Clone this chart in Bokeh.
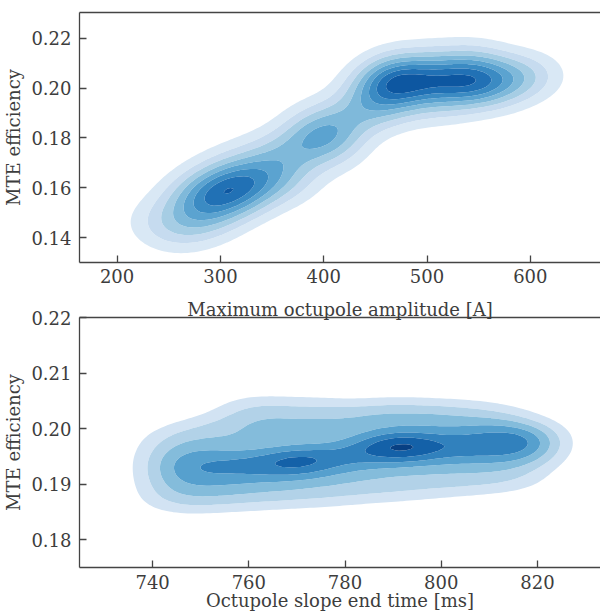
import numpy as np
from bokeh.plotting import figure
from bokeh.layouts import column
from bokeh.models import FixedTicker, PrintfTickFormatter, LinearAxis, Range1d
from bokeh.embed import file_html
from bokeh.resources import INLINE

# ---------------- data (samples) ----------------
# Panel 1: maximum octupole amplitude [A] vs MTE efficiency
amp_a = [270, 274, 278, 282, 286, 290, 294, 298, 302, 306, 310, 314, 318, 322, 326, 330, 334, 338, 343, 348, 353, 358,
         308, 324, 316, 300,
         228, 238, 246, 254, 260, 266, 272, 280, 286, 294, 302, 312, 320, 332, 344, 356, 364, 370, 262, 290,
         362, 370, 378, 386, 390, 394, 398, 402, 406, 410, 414, 422, 426, 434, 438,
         446, 450, 454, 397,
         375, 392, 420, 435, 385, 410,
         456, 460, 464, 468, 472, 476, 480, 484, 488, 492, 496, 500, 504, 508, 512, 516, 520, 524, 528, 532,
         536, 540, 544, 548, 552, 556, 462, 470, 548, 458, 465, 460, 545,
         562, 568, 574, 580, 586, 592, 598, 606, 612,
         455, 466, 478, 490, 502, 514, 526, 538, 550, 560, 470, 515, 545, 575]
eff_a = [0.150, 0.155, 0.151, 0.157, 0.153, 0.158, 0.154, 0.160, 0.155, 0.161, 0.157, 0.163, 0.158, 0.164, 0.160,
         0.166, 0.161, 0.167, 0.163, 0.169, 0.165, 0.170,
         0.159, 0.162, 0.160, 0.157,
         0.147, 0.143, 0.150, 0.142, 0.155, 0.145, 0.160, 0.146, 0.164, 0.149, 0.169, 0.151, 0.173, 0.155, 0.176,
         0.160, 0.177, 0.163, 0.141, 0.144,
         0.172, 0.174, 0.177, 0.179, 0.176, 0.182, 0.178, 0.184, 0.180, 0.186, 0.182,
         0.184, 0.190, 0.192, 0.189,
         0.191, 0.197, 0.194, 0.181,
         0.162, 0.190, 0.176, 0.199, 0.185, 0.171,
         0.200, 0.204, 0.201, 0.205, 0.201, 0.204, 0.202, 0.205, 0.201, 0.204, 0.202, 0.205, 0.201, 0.204, 0.202,
         0.205, 0.202, 0.204, 0.201, 0.204, 0.202, 0.204, 0.202, 0.204, 0.202, 0.203, 0.202, 0.203, 0.203,
         0.201, 0.203, 0.202, 0.203,
         0.201, 0.205, 0.202, 0.205, 0.203, 0.206, 0.204, 0.205, 0.206,
         0.193, 0.210, 0.195, 0.212, 0.195, 0.212, 0.196, 0.211, 0.197, 0.210, 0.190, 0.191, 0.213, 0.198]

# Panel 2: octupole slope end time [ms] vs MTE efficiency (grouped by setting)
time_settings = [742, 746, 750, 754, 758, 762, 766, 770, 774, 778, 782, 786, 790, 794, 798, 802, 806, 810, 814,
                 818, 820]
eff_by_setting = [
    [0.1870, 0.1895, 0.1915, 0.1935, 0.1952, 0.1978],
    [0.1868, 0.1895, 0.1913, 0.1930, 0.1945, 0.1965, 0.1992],
    [0.1870, 0.1897, 0.1916, 0.1932, 0.1945, 0.1968, 0.1998],
    [0.1872, 0.1900, 0.1918, 0.1935, 0.1948, 0.1972, 0.2005],
    [0.1875, 0.1902, 0.1923, 0.1937, 0.1948, 0.1985, 0.2010, 0.2038],
    [0.1875, 0.1905, 0.1925, 0.1938, 0.1948, 0.1982, 0.2008, 0.2035],
    [0.1878, 0.1907, 0.1928, 0.1940, 0.1950, 0.1988, 0.2012, 0.2040],
    [0.1880, 0.1910, 0.1932, 0.1940, 0.1943, 0.1946, 0.1955, 0.1992, 0.2020],
    [0.1880, 0.1912, 0.1935, 0.1945, 0.1957, 0.1992, 0.2015, 0.2042],
    [0.1883, 0.1915, 0.1938, 0.1950, 0.1962, 0.1998, 0.2025],
    [0.1886, 0.1918, 0.1942, 0.1955, 0.1966, 0.2000, 0.2028],
    [0.1890, 0.1922, 0.1948, 0.1962, 0.1970, 0.1976, 0.2012, 0.2030],
    [0.1890, 0.1925, 0.1950, 0.1965, 0.1968, 0.1972, 0.1977, 0.2012, 0.2035],
    [0.1893, 0.1928, 0.1952, 0.1966, 0.1968, 0.1972, 0.1978, 0.2008, 0.2032],
    [0.1897, 0.1930, 0.1955, 0.1968, 0.1977, 0.2008, 0.2030],
    [0.1900, 0.1933, 0.1957, 0.1970, 0.1980, 0.2008, 0.2030],
    [0.1902, 0.1935, 0.1955, 0.1968, 0.1980, 0.1998, 0.2028],
    [0.1905, 0.1938, 0.1957, 0.1970, 0.1982, 0.1998, 0.2025],
    [0.1908, 0.1940, 0.1960, 0.1972, 0.1984, 0.1998, 0.2020],
    [0.1912, 0.1945, 0.1965, 0.1980, 0.2000],
    [0.1950, 0.1968, 0.1980, 0.1992],
]

amp_ticks = [200, 300, 400, 500, 600]
amp_eff_ticks = [0.14, 0.16, 0.18, 0.20, 0.22]
time_ticks = [740, 760, 780, 800, 820]
time_eff_ticks = [0.18, 0.19, 0.20, 0.21, 0.22]
amp_label = "Maximum octupole amplitude [A]"
time_label = "Octupole slope end time [ms]"
eff_label = "MTE efficiency"

# ---------------- styles ----------------
TOP_COLORS = ["#d9e8f5", "#c6dbef", "#a6cde4", "#7fb9da", "#5ba3d0", "#3b8bc3", "#2171b5", "#0d57a1"]
BOT_COLORS = ["#d2e3f3", "#b2d2e8", "#84bcdb", "#56a0ce", "#3181bd", "#1461a8", "#084083"]
FONT = "DejaVu Serif"
FS = "18px"
TEXT = "#3d3d3d"
LINE = "#444444"


def kde(xs, ys, gx, gy, bx, by):
    xs = np.asarray(xs, float)
    ys = np.asarray(ys, float)
    kx = np.exp(-0.5 * ((gx[None, :] - xs[:, None]) / bx) ** 2)
    ky = np.exp(-0.5 * ((gy[None, :] - ys[:, None]) / by) ** 2)
    return ky.T @ kx


def levels_for(z, nbands, top_frac):
    m = z.max()
    step = m / top_frac
    lv = [step * k for k in range(1, nbands + 1)]
    lv.append(max(m, lv[-1]) * 1.02)
    return lv


def text_style(ax):
    ax.major_label_text_font = FONT
    ax.major_label_text_font_size = FS
    ax.major_label_text_color = TEXT
    ax.axis_label_text_font = FONT
    ax.axis_label_text_font_size = FS
    ax.axis_label_text_font_style = "normal"
    ax.axis_label_text_color = TEXT


def style(p, xticks, yticks, ylabel, xlabel=None, top_label=None):
    p.outline_line_color = None
    p.grid.visible = False
    p.xaxis.ticker = FixedTicker(ticks=xticks)
    p.yaxis.ticker = FixedTicker(ticks=yticks)
    p.yaxis.formatter = PrintfTickFormatter(format="%.2f")
    p.yaxis.axis_label = ylabel
    if xlabel:
        p.xaxis.axis_label = xlabel
    for ax in (p.xaxis[0], p.yaxis[0]):
        ax.axis_line_color = LINE
        ax.axis_line_width = 1.3
        ax.major_tick_line_color = LINE
        ax.major_tick_line_width = 1.3
        ax.major_tick_in = 7
        ax.major_tick_out = 0
        ax.minor_tick_line_color = None
        text_style(ax)
    p.yaxis.major_label_standoff = 8
    p.yaxis.axis_label_standoff = 4
    top = LinearAxis(ticker=FixedTicker(ticks=[]), axis_line_color=LINE, axis_line_width=1.3,
                     major_tick_line_color=None, minor_tick_line_color=None,
                     major_tick_in=0, major_tick_out=0, minor_tick_in=0, minor_tick_out=0,
                     major_label_standoff=0)
    text_style(top)
    top.major_label_text_font_size = "0px"
    if top_label:
        top.axis_label = top_label
        top.axis_label_standoff = 7
    p.add_layout(top, "above")


# ---------------- panel 1 ----------------
gx1 = np.linspace(150, 690, 170)
gy1 = np.linspace(0.115, 0.245, 170)
z1 = kde(amp_a, eff_a, gx1, gy1, 24.0, 0.0070)
p1 = figure(width=600, height=289, x_range=Range1d(163.6, 667.9), y_range=Range1d(0.1301, 0.2303),
            output_backend="svg", toolbar_location=None,
            min_border_left=73, min_border_right=0, min_border_top=12, min_border_bottom=27)
p1.contour(x=gx1, y=gy1, z=z1, levels=levels_for(z1, 8, 8.8), fill_color=TOP_COLORS, line_color=None)
style(p1, amp_ticks, amp_eff_ticks, eff_label)
p1.xaxis.major_label_standoff = 6

# ---------------- panel 2 ----------------
# the upper panel's x-axis title sits in the gap above this panel, as in the picture
time_b = [t for t, ys in zip(time_settings, eff_by_setting) for _ in ys]
eff_b = [y for ys in eff_by_setting for y in ys]
gx2 = np.linspace(715, 845, 170)
gy2 = np.linspace(0.170, 0.225, 170)
z2 = kde(time_b, eff_b, gx2, gy2, 5.3, 0.0021)
p2 = figure(width=600, height=325, x_range=Range1d(724.8, 833.1), y_range=Range1d(0.175, 0.22),
            output_backend="svg", toolbar_location=None,
            min_border_left=73, min_border_right=0, min_border_top=28, min_border_bottom=47)
p2.contour(x=gx2, y=gy2, z=z2, levels=levels_for(z2, 7, 7.15), fill_color=BOT_COLORS, line_color=None)
style(p2, time_ticks, time_eff_ticks, eff_label, xlabel=time_label, top_label=amp_label)
p2.xaxis.major_label_standoff = 7
p2.xaxis.axis_label_standoff = -2

layout = column(p1, p2, spacing=0)
open("out.html", "w").write(file_html(layout, INLINE))
